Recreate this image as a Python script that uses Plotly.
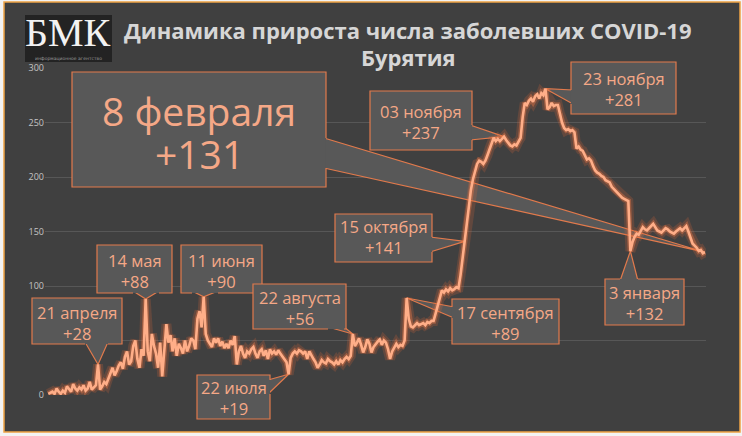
import plotly.graph_objects as go
import pandas as pd

# ---------------- data ----------------
START_DATE = "2020-03-28"
mar_2020 = [1, 2, 3, 1]
apr_2020 = [6, 3, 1, 4, 2, 8, 5, 3, 10, 6, 4, 7, 5, 9, 4, 6, 12, 5, 7, 9,
            28, 5, 8, 12, 10, 16, 20, 25, 18, 22]
may_2020 = [27, 30, 24, 35, 40, 28, 31, 45, 50, 33, 25, 42, 36, 88, 40, 31,
            56, 45, 38, 25, 48, 17, 40, 65, 48, 55, 40, 52, 36, 47, 43]
jun_2020 = [38, 50, 40, 45, 52, 50, 42, 70, 77, 62, 90, 56, 50, 47, 44, 52,
            48, 52, 45, 49, 43, 47, 43, 50, 46, 54, 28, 40, 45, 38]
jul_2020 = [34, 40, 38, 42, 44, 38, 34, 40, 42, 36, 41, 33, 42, 38, 40, 37,
            41, 38, 35, 33, 30, 19, 34, 38, 40, 38, 41, 40, 38, 40, 33]
aug_2020 = [40, 36, 33, 30, 25, 28, 32, 30, 29, 33, 31, 30, 28, 31, 28, 32,
            30, 33, 35, 33, 36, 56, 45, 48, 52, 46, 39, 44, 51, 47, 39]
sep_2020 = [44, 47, 49, 51, 46, 50, 48, 42, 33, 40, 44, 47, 44, 46, 45, 50,
            89, 70, 63, 62, 64, 66, 64, 65, 66, 64, 67, 66, 68, 68]
oct_2020 = [75, 84, 90, 96, 94, 97, 95, 98, 96, 97, 99, 98, 110, 125, 141, 160,
            175, 188, 198, 205, 212, 215, 214, 212, 215, 220, 226, 232, 236, 233, 235]
nov_2020 = [233, 235, 237, 234, 231, 229, 228, 230, 229, 233, 236, 255, 268, 266,
            270, 272, 269, 274, 276, 272, 277, 275, 281, 262, 264, 268, 265, 266, 266, 258]
dec_2020 = [250, 245, 243, 244, 242, 243, 241, 226, 228, 225, 224, 220, 216, 217,
            215, 210, 206, 204, 203, 201, 200, 197, 196, 195, 191, 189, 187, 185,
            183, 181, 180]
jan_2021 = [179, 178, 132, 140, 145, 148, 147, 150, 154, 152, 151, 153, 155, 157,
            154, 151, 150, 149, 151, 153, 152, 150, 149, 148, 150, 152, 153, 151,
            153, 155, 150]
feb_2021 = [145, 139, 137, 135, 132, 133, 130, 131]

daily_new = (mar_2020 + apr_2020 + may_2020 + jun_2020 + jul_2020 + aug_2020 +
             sep_2020 + oct_2020 + nov_2020 + dec_2020 + jan_2021 + feb_2021)
dates = pd.date_range(START_DATE, periods=len(daily_new), freq="D")
day_index = list(range(len(daily_new)))

y_ticks = [0, 50, 100, 150, 200, 250, 300]

callout_dates = ["2020-04-21", "2020-05-14", "2020-06-11", "2020-07-22",
                 "2020-08-22", "2020-09-17", "2020-10-15", "2020-11-03",
                 "2020-11-23", "2021-01-03", "2021-02-08"]
callout_titles = ["21 апреля", "14 мая", "11 июня", "22 июля", "22 августа",
                  "17 сентября", "15 октября", "03 ноября", "23 ноября",
                  "3 января", "8 февраля"]
callout_values = ["+28", "+88", "+90", "+19", "+56", "+89", "+141", "+237",
                  "+281", "+132", "+131"]

title_line1 = "Динамика прироста числа заболевших COVID-19"
title_line2 = "Бурятия"

# ---------------- layout geometry (pixels) ----------------
W, H = 742, 436
L, R, T, B = 45, 706, 68, 395
X_RANGE = [-1.6, 317.5]
Y_RANGE = [0, 300]


def px2x(px):
    return X_RANGE[0] + (px - L) / (R - L) * (X_RANGE[1] - X_RANGE[0])


def py2y(py):
    return Y_RANGE[0] + (B - py) / (B - T) * (Y_RANGE[1] - Y_RANGE[0])


def px2p(px):
    return (px - L) / (R - L)


def py2p(py):
    return (B - py) / (B - T)


# callout boxes: x0, y0, x1, y1, side of pointer, base a, base b, font size, text y1, text y2
boxes = [
    (32, 298, 122, 344, "bottom", 85, 108, 16.5, 313, 332),
    (97, 245, 172, 293, "bottom", 133, 159, 16.5, 261, 281),
    (181, 245, 262, 293, "bottom", 192, 218, 16.5, 261, 281),
    (197, 375, 270, 419, "right", 380, 394, 16.5, 387, 408),
    (253, 284, 346, 329, "bottom", 328, 344, 16.5, 298, 318),
    (452, 299, 559, 344, "left", 307, 318, 16.5, 312, 333),
    (335, 214, 432, 262, "right", 237, 252, 16.5, 227, 247),
    (370, 91, 472, 150, "right", 125, 140, 16.5, 112, 132),
    (571, 62, 676, 114, "left", 90, 104, 16.5, 78, 100),
    (605, 279, 684, 325, "top", 620, 638, 16.5, 293, 313),
    (72, 72, 326, 187, "right", 138, 168, 39, 110, 153),
]

BG = "#404040"
BOX_FILL = "#585858"
BOX_LINE = "#e27a4c"
TEXT_SALMON = "#f5a887"
LINE_CORE = "#ffae88"

fig = go.Figure()

# glow + line
fig.add_trace(go.Scatter(x=day_index, y=daily_new, mode="lines",
                         line=dict(color="rgba(235,105,55,0.20)", width=10),
                         hoverinfo="skip", showlegend=False))
fig.add_trace(go.Scatter(x=day_index, y=daily_new, mode="lines",
                         line=dict(color="rgba(240,120,70,0.40)", width=5.5),
                         hoverinfo="skip", showlegend=False))
fig.add_trace(go.Scatter(x=day_index, y=daily_new, mode="lines",
                         line=dict(color=LINE_CORE, width=2.6),
                         customdata=[d.strftime("%d.%m.%Y") for d in dates],
                         hovertemplate="%{customdata}: +%{y}<extra></extra>",
                         showlegend=False))

shapes = []
annotations = []

# outer dark panel with orange frame
shapes.append(dict(type="rect", xref="paper", yref="paper",
                   x0=px2p(4), x1=px2p(740), y0=py2p(432), y1=py2p(2),
                   fillcolor=BG, line=dict(color="#eea244", width=1.5),
                   layer="below"))

# logo
shapes.append(dict(type="rect", xref="paper", yref="paper",
                   x0=px2p(25), x1=px2p(112), y0=py2p(62), y1=py2p(15),
                   fillcolor="#232323", line=dict(width=0), layer="above"))
annotations.append(dict(xref="paper", yref="paper", x=px2p(68), y=py2p(33),
                        text="БМК", showarrow=False, xanchor="center", yanchor="middle",
                        font=dict(family="Liberation Serif", size=40, color="#f2f2f2")))
annotations.append(dict(xref="paper", yref="paper", x=px2p(68), y=py2p(59),
                        text="информационное агентство", showarrow=False,
                        xanchor="center", yanchor="middle",
                        font=dict(family="DejaVu Sans", size=4.5, color="#9a9a9a")))

# title
annotations.append(dict(xref="paper", yref="paper", x=px2p(408), y=py2p(30),
                        text="<b>" + title_line1 + "</b>", showarrow=False,
                        xanchor="center", yanchor="middle",
                        font=dict(family="Open Sans", size=22, color="#d6d6d6")))
annotations.append(dict(xref="paper", yref="paper", x=px2p(408), y=py2p(57),
                        text="<b>" + title_line2 + "</b>", showarrow=False,
                        xanchor="center", yanchor="middle",
                        font=dict(family="Open Sans", size=22, color="#d6d6d6")))


def fmt(pts):
    return "M " + " L ".join(f"{a:.5f},{b:.5f}" for a, b in pts)


for i, (x0, y0, x1, y1, side, ba, bb, fs, ty1, ty2) in enumerate(boxes):
    idx = dates.get_loc(pd.Timestamp(callout_dates[i]))
    tip = (day_index[idx], daily_new[idx])
    inset = 2
    if side == "top":
        base = [(ba, y0 + inset), (bb, y0 + inset)]
        outline = [(bb, y0), (x1, y0), (x1, y1), (x0, y1), (x0, y0), (ba, y0)]
    elif side == "right":
        base = [(x1 - inset, ba), (x1 - inset, bb)]
        outline = [(x1, bb), (x1, y1), (x0, y1), (x0, y0), (x1, y0), (x1, ba)]
    elif side == "bottom":
        base = [(ba, y1 - inset), (bb, y1 - inset)]
        outline = [(ba, y1), (x0, y1), (x0, y0), (x1, y0), (x1, y1), (bb, y1)]
    else:
        base = [(x0 + inset, ba), (x0 + inset, bb)]
        outline = [(x0, ba), (x0, y0), (x1, y0), (x1, y1), (x0, y1), (x0, bb)]

    wedge = [(px2x(base[0][0]), py2y(base[0][1])), tip,
             (px2x(base[1][0]), py2y(base[1][1]))]
    shapes.append(dict(type="path", xref="x", yref="y", path=fmt(wedge),
                       fillcolor=BOX_FILL, line=dict(color=BOX_LINE, width=1.2),
                       layer="between"))
    shapes.append(dict(type="path", xref="paper", yref="paper",
                       path=fmt([(px2p(a), py2p(b)) for a, b in outline]),
                       fillcolor=BOX_FILL, line=dict(color=BOX_LINE, width=1.2),
                       layer="above"))
    cx = (x0 + x1) / 2
    if fs > 30:
        for txt, ty in ((callout_titles[i], ty1), (callout_values[i], ty2)):
            annotations.append(dict(xref="paper", yref="paper", x=px2p(cx), y=py2p(ty),
                                    text=txt, showarrow=False,
                                    xanchor="center", yanchor="middle",
                                    font=dict(family="Open Sans", size=fs, color=TEXT_SALMON)))
    else:
        annotations.append(dict(xref="paper", yref="paper", x=px2p(cx),
                                y=py2p((ty1 + ty2) / 2),
                                text=callout_titles[i] + "<br>" + callout_values[i],
                                showarrow=False, align="center",
                                xanchor="center", yanchor="middle",
                                font=dict(family="Open Sans", size=fs, color=TEXT_SALMON)))

fig.update_layout(
    width=W, height=H,
    margin=dict(l=L, r=W - R, t=T, b=H - B, pad=0),
    paper_bgcolor="#f3f3f3",
    plot_bgcolor="rgba(0,0,0,0)",
    showlegend=False,
    shapes=shapes,
    annotations=annotations,
    xaxis=dict(range=X_RANGE, visible=False, showgrid=False, zeroline=False),
    yaxis=dict(range=Y_RANGE, tickvals=y_ticks, ticktext=[str(v) for v in y_ticks],
               showgrid=True, gridcolor="#575757", gridwidth=1, zeroline=False,
               showline=False, ticks="",
               tickfont=dict(family="Open Sans", size=9, color="#c4c4c4")),
)

fig.write_html("out.html", config={"displayModeBar": False},
               post_script="document.body.style.margin='0px';document.body.style.padding='0px';")
